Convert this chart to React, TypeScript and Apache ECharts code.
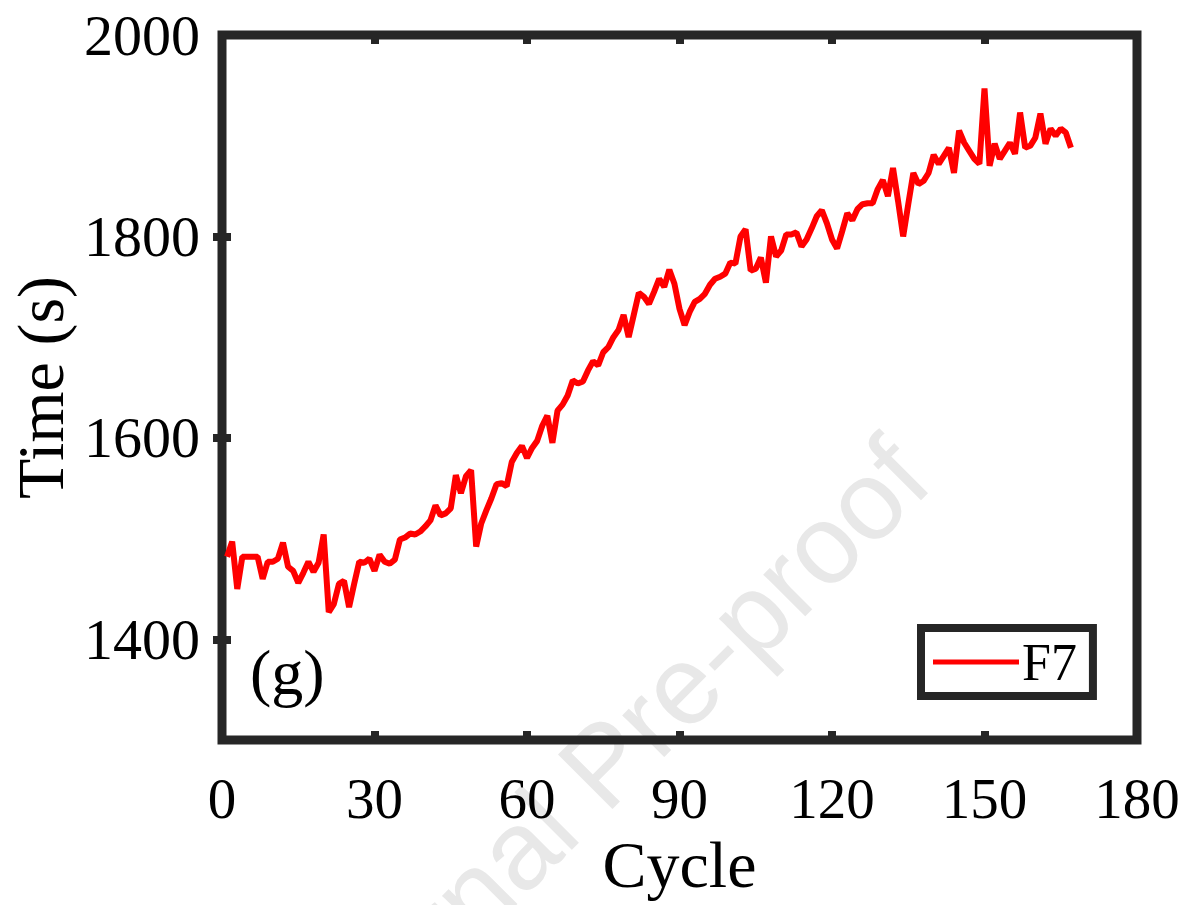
import React, { useEffect, useRef } from "react";
import * as echarts from "echarts";

const cycles: number[] = Array.from({ length: 167 }, (_, i) => i + 1);
const timeF7: number[] = [
  1482, 1497, 1450, 1482, 1482, 1482, 1482, 1460, 1477, 1477,
  1480, 1496, 1472, 1468, 1456, 1466, 1477, 1467, 1476, 1504,
  1427, 1435, 1455, 1458, 1432, 1455, 1477, 1476, 1480, 1468,
  1484, 1477, 1475, 1479, 1499, 1501, 1505, 1504, 1507, 1512,
  1518, 1533, 1523, 1525, 1530, 1563, 1545, 1562, 1568, 1492,
  1515, 1528, 1540, 1554, 1555, 1552, 1576, 1585, 1592, 1580,
  1590, 1597, 1612, 1622, 1595, 1627, 1633, 1642, 1657, 1654,
  1656, 1667, 1676, 1672, 1685, 1690, 1700, 1707, 1722, 1700,
  1722, 1744, 1740, 1733, 1745, 1758, 1750, 1767, 1753, 1728,
  1712, 1725, 1735, 1738, 1743, 1752, 1758, 1760, 1763, 1774,
  1773, 1800, 1807, 1766, 1768, 1779, 1754, 1800, 1780, 1786,
  1802, 1802, 1804, 1790, 1797, 1808, 1820, 1826, 1813, 1797,
  1788, 1805, 1823, 1816, 1827, 1832, 1833, 1833, 1847, 1856,
  1840, 1868, 1835, 1800, 1832, 1863, 1852, 1855, 1863, 1881,
  1872, 1880, 1888, 1863, 1905, 1893, 1885, 1877, 1872, 1947,
  1870, 1892, 1877, 1885, 1893, 1882, 1923, 1888, 1890, 1898,
  1922, 1892, 1907, 1900, 1907, 1903, 1888,
];
const xTicks: number[] = [0, 30, 60, 90, 120, 150, 180];
const yTicks: number[] = [1400, 1600, 1800, 2000];
const yInnerTicks: number[] = [1400, 1600, 1800];
const seriesName = "F7";
const panelLabel = "(g)";
const watermark = "Journal Pre-proof";

const FRAME = "#262626";
const SERIF = "'Liberation Serif', 'Times New Roman', serif";

export default function App() {
  const ref = useRef<HTMLDivElement>(null);
  useEffect(() => {
    if (!ref.current) return;
    const chart = echarts.init(ref.current, undefined, { renderer: "svg" });
    const tickStyle = { show: true, inside: true, length: 9, lineStyle: { color: FRAME, width: 8 } };
    chart.setOption({
      animation: false,
      backgroundColor: "#ffffff",
      grid: {
        left: 222, right: 45, top: 35, bottom: 165,
        outerBoundsMode: "none",
        containLabel: false,
        show: true, borderColor: FRAME, borderWidth: 9, backgroundColor: "transparent",
      },
      legend: {
        data: [{ name: seriesName, icon: "rect" }],
        left: 921, top: 628,
        itemWidth: 86, itemHeight: 5,
        itemGap: 0,
        backgroundColor: "#ffffff",
        borderColor: FRAME, borderWidth: 8,
        padding: [8, 16, 8, 12],
        textStyle: { fontFamily: SERIF, fontSize: 52, color: "#000", padding: [0, 0, 0, -2] },
      },
      xAxis: [
        {
          type: "value", min: 0, max: 180, interval: 30,
          axisLine: { show: false },
          axisTick: tickStyle,
          splitLine: { show: false },
          axisLabel: {
            fontFamily: SERIF, fontSize: 57, color: "#000", margin: 30,
            customValues: xTicks, formatter: (v: number) => String(v),
          },
          name: "Cycle", nameLocation: "middle", nameGap: 70,
          nameTextStyle: { fontFamily: SERIF, fontSize: 66, color: "#000" },
        },
        {
          type: "value", min: 0, max: 180, interval: 30, position: "top",
          axisLine: { show: false }, axisTick: tickStyle,
          axisLabel: { show: false }, splitLine: { show: false },
        },
      ],
      yAxis: [
        {
          type: "value", min: 1300, max: 2000,
          axisLine: { show: false },
          axisTick: { ...tickStyle, customValues: yInnerTicks },
          splitLine: { show: false },
          axisLabel: {
            fontFamily: SERIF, fontSize: 58, color: "#000", margin: 22,
            customValues: yTicks, formatter: (v: number) => String(v),
          },
          name: "Time (s)", nameLocation: "middle", nameGap: 140,
          nameTextStyle: { fontFamily: SERIF, fontSize: 66, color: "#000" },
        },
        {
          type: "value", min: 1300, max: 2000, position: "right",
          axisLine: { show: false },
          axisTick: { ...tickStyle, customValues: yInnerTicks },
          axisLabel: { show: false }, splitLine: { show: false },
        },
      ],
      graphic: [
        {
          type: "text", left: 250, top: 640, z: 10,
          style: { text: panelLabel, font: `64px ${SERIF}`, fill: "#000" },
        },
        {
          type: "text", x: 603, y: 764, rotation: Math.PI / 4, z: -1, silent: true,
          style: {
            text: watermark, font: "112px 'Liberation Sans', Arial, sans-serif",
            fill: "#e8e8e8", align: "center", verticalAlign: "middle",
          },
        },
      ],
      series: [
        {
          name: seriesName, type: "line", xAxisIndex: 0, yAxisIndex: 0,
          data: cycles.map((c, i) => [c, timeF7[i]]),
          symbol: "none", lineStyle: { color: "#ff0000", width: 6 },
          itemStyle: { color: "#ff0000" },
        },
      ],
    });
    return () => chart.dispose();
  }, []);
  return <div ref={ref} style={{ position: "fixed", left: 0, top: 0, width: 1182, height: 905 }} />;
}
